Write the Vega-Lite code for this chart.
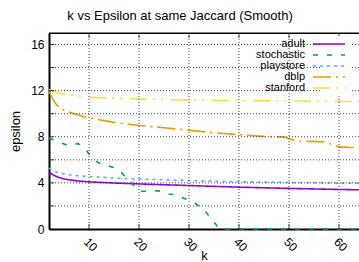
{
  "$schema": "https://vega.github.io/schema/vega-lite/v6.json",
  "width": 310,
  "height": 196,
  "autosize": {"type": "none"},
  "padding": {"left": 49, "top": 33, "right": 0, "bottom": 33},
  "background": "white",
  "view": {"stroke": "#000000", "strokeWidth": 1},
  "title": {"text": "k vs Epsilon at same Jaccard (Smooth)", "font": "Liberation Sans", "fontSize": 13, "fontWeight": "normal", "color": "#000000", "anchor": "middle", "dx": -24, "offset": 10},
  "datasets": {
    "xgrid": [{"k": 10}, {"k": 20}, {"k": 30}, {"k": 40}, {"k": 50}, {"k": 60}],
    "ygrid": [{"epsilon": 2}, {"epsilon": 4}, {"epsilon": 6}, {"epsilon": 8}, {"epsilon": 10}, {"epsilon": 12}, {"epsilon": 14}, {"epsilon": 16}],
    "frame": [{"epsilon": 17}],
    "curves": [
    {"k": 2, "epsilon": 4.93, "series": "adult"},
    {"k": 3, "epsilon": 4.65, "series": "adult"},
    {"k": 4, "epsilon": 4.46, "series": "adult"},
    {"k": 5, "epsilon": 4.34, "series": "adult"},
    {"k": 6, "epsilon": 4.26, "series": "adult"},
    {"k": 8, "epsilon": 4.16, "series": "adult"},
    {"k": 10, "epsilon": 4.09, "series": "adult"},
    {"k": 15, "epsilon": 3.99, "series": "adult"},
    {"k": 20, "epsilon": 3.91, "series": "adult"},
    {"k": 25, "epsilon": 3.84, "series": "adult"},
    {"k": 30, "epsilon": 3.77, "series": "adult"},
    {"k": 40, "epsilon": 3.63, "series": "adult"},
    {"k": 50, "epsilon": 3.52, "series": "adult"},
    {"k": 60, "epsilon": 3.43, "series": "adult"},
    {"k": 64, "epsilon": 3.4, "series": "adult"},

    {"k": 2, "epsilon": 7.9, "series": "stochastic"},
    {"k": 3, "epsilon": 7.72, "series": "stochastic"},
    {"k": 5, "epsilon": 7.38, "series": "stochastic"},
    {"k": 6, "epsilon": 7.25, "series": "stochastic"},
    {"k": 7, "epsilon": 7.3, "series": "stochastic"},
    {"k": 7.8, "epsilon": 7.42, "series": "stochastic"},
    {"k": 8.5, "epsilon": 7.15, "series": "stochastic"},
    {"k": 9.4, "epsilon": 6.85, "series": "stochastic"},
    {"k": 10, "epsilon": 6.5, "series": "stochastic"},
    {"k": 11, "epsilon": 6.0, "series": "stochastic"},
    {"k": 12, "epsilon": 5.72, "series": "stochastic"},
    {"k": 13, "epsilon": 5.58, "series": "stochastic"},
    {"k": 15, "epsilon": 5.32, "series": "stochastic"},
    {"k": 16, "epsilon": 5.12, "series": "stochastic"},
    {"k": 17, "epsilon": 4.65, "series": "stochastic"},
    {"k": 18, "epsilon": 4.22, "series": "stochastic"},
    {"k": 19, "epsilon": 3.75, "series": "stochastic"},
    {"k": 20, "epsilon": 3.28, "series": "stochastic"},
    {"k": 21, "epsilon": 3.27, "series": "stochastic"},
    {"k": 23, "epsilon": 3.33, "series": "stochastic"},
    {"k": 24.5, "epsilon": 3.27, "series": "stochastic"},
    {"k": 26, "epsilon": 3.03, "series": "stochastic"},
    {"k": 27.5, "epsilon": 2.96, "series": "stochastic"},
    {"k": 28.5, "epsilon": 2.75, "series": "stochastic"},
    {"k": 30, "epsilon": 2.48, "series": "stochastic"},
    {"k": 31.2, "epsilon": 2.23, "series": "stochastic"},
    {"k": 32.7, "epsilon": 1.8, "series": "stochastic"},
    {"k": 33.5, "epsilon": 1.42, "series": "stochastic"},
    {"k": 34.5, "epsilon": 0.78, "series": "stochastic"},
    {"k": 35.4, "epsilon": 0.4, "series": "stochastic"},
    {"k": 36, "epsilon": 0, "series": "stochastic"},
    {"k": 50, "epsilon": 0, "series": "stochastic"},
    {"k": 64, "epsilon": 0, "series": "stochastic"},

    {"k": 2, "epsilon": 5.28, "series": "playstore"},
    {"k": 3, "epsilon": 5.0, "series": "playstore"},
    {"k": 4, "epsilon": 4.86, "series": "playstore"},
    {"k": 6, "epsilon": 4.71, "series": "playstore"},
    {"k": 8, "epsilon": 4.61, "series": "playstore"},
    {"k": 10, "epsilon": 4.55, "series": "playstore"},
    {"k": 15, "epsilon": 4.42, "series": "playstore"},
    {"k": 20, "epsilon": 4.33, "series": "playstore"},
    {"k": 30, "epsilon": 4.2, "series": "playstore"},
    {"k": 40, "epsilon": 4.1, "series": "playstore"},
    {"k": 50, "epsilon": 4.03, "series": "playstore"},
    {"k": 60, "epsilon": 3.98, "series": "playstore"},
    {"k": 64, "epsilon": 3.96, "series": "playstore"},

    {"k": 2, "epsilon": 11.94, "series": "dblp"},
    {"k": 2.5, "epsilon": 11.5, "series": "dblp"},
    {"k": 3, "epsilon": 11.1, "series": "dblp"},
    {"k": 3.5, "epsilon": 10.78, "series": "dblp"},
    {"k": 4, "epsilon": 10.56, "series": "dblp"},
    {"k": 5, "epsilon": 10.3, "series": "dblp"},
    {"k": 6, "epsilon": 10.15, "series": "dblp"},
    {"k": 8, "epsilon": 9.86, "series": "dblp"},
    {"k": 10, "epsilon": 9.63, "series": "dblp"},
    {"k": 12, "epsilon": 9.48, "series": "dblp"},
    {"k": 15, "epsilon": 9.25, "series": "dblp"},
    {"k": 20, "epsilon": 8.98, "series": "dblp"},
    {"k": 25, "epsilon": 8.78, "series": "dblp"},
    {"k": 30, "epsilon": 8.57, "series": "dblp"},
    {"k": 35, "epsilon": 8.35, "series": "dblp"},
    {"k": 40, "epsilon": 8.18, "series": "dblp"},
    {"k": 45, "epsilon": 8.03, "series": "dblp"},
    {"k": 49, "epsilon": 7.97, "series": "dblp"},
    {"k": 50, "epsilon": 7.82, "series": "dblp"},
    {"k": 52, "epsilon": 7.6, "series": "dblp"},
    {"k": 55, "epsilon": 7.6, "series": "dblp"},
    {"k": 57, "epsilon": 7.54, "series": "dblp"},
    {"k": 58.5, "epsilon": 7.37, "series": "dblp"},
    {"k": 60, "epsilon": 7.12, "series": "dblp"},
    {"k": 62, "epsilon": 7.08, "series": "dblp"},
    {"k": 64, "epsilon": 7.06, "series": "dblp"},

    {"k": 2, "epsilon": 12.1, "series": "stanford"},
    {"k": 3, "epsilon": 11.9, "series": "stanford"},
    {"k": 5, "epsilon": 11.7, "series": "stanford"},
    {"k": 10, "epsilon": 11.42, "series": "stanford"},
    {"k": 20, "epsilon": 11.28, "series": "stanford"},
    {"k": 30, "epsilon": 11.18, "series": "stanford"},
    {"k": 40, "epsilon": 11.13, "series": "stanford"},
    {"k": 50, "epsilon": 11.1, "series": "stanford"},
    {"k": 64, "epsilon": 11.05, "series": "stanford"}
    ]
  },
  "layer": [
    {
      "data": {"name": "curves"},
      "mark": {"type": "line", "strokeWidth": 1.6},
      "encoding": {
        "x": {"field": "k", "type": "quantitative", "scale": {"domain": [2, 64], "nice": false, "zero": false},
          "axis": {"orient": "bottom", "values": [10, 20, 30, 40, 50, 60], "labelOverlap": false, "title": "k", "titleFont": "Liberation Sans", "titleColor": "#000000", "titleFontSize": 13, "titleFontWeight": "normal", "titlePadding": -4, "labelFont": "Liberation Sans", "labelColor": "#000000", "labelFontSize": 12, "labelAngle": 45, "labelAlign": "left", "labelBaseline": "top", "ticks": false, "labelPadding": 7, "domainColor": "#000000", "domainWidth": 2, "grid": false}},
        "y": {"field": "epsilon", "type": "quantitative", "scale": {"domain": [0, 17], "nice": false, "zero": false},
          "axis": {"orient": "left", "values": [0, 2, 4, 6, 8, 10, 12, 14, 16], "labelOverlap": false, "title": "epsilon", "titleFont": "Liberation Sans", "titleColor": "#000000", "titleFontSize": 13, "titleFontWeight": "normal", "titlePadding": 8, "labelFont": "Liberation Sans", "labelColor": "#000000", "labelFontSize": 12, "ticks": false, "labelPadding": 5, "domainColor": "#000000", "domainWidth": 2, "grid": false}},
        "color": {"field": "series", "type": "nominal",
          "scale": {"domain": ["adult", "stochastic", "playstore", "dblp", "stanford"], "range": ["#9400d3", "#009e73", "#56b4e9", "#e69f00", "#f0e442"]},
          "legend": {"title": null, "orient": "none", "legendX": 272, "legendY": 3, "symbolType": "M-3.2,0H3.2", "symbolSize": 100, "symbolStrokeWidth": 1.6, "labelAlign": "right", "labelOffset": -30, "labelFont": "Liberation Sans", "labelFontSize": 11, "labelColor": "#000000", "rowPadding": 0, "padding": 2, "fillColor": "white"}},
        "strokeDash": {"field": "series", "type": "nominal",
          "scale": {"domain": ["adult", "stochastic", "playstore", "dblp", "stanford"], "range": [[1, 0], [5, 9], [3, 4], [18, 5, 2, 5], [17, 6, 2, 6, 2, 8]]},
          "legend": null},
        "order": {"field": "k", "type": "quantitative"}
      }
    },
    {
      "data": {"name": "xgrid"},
      "mark": {"type": "rule", "color": "#404040", "strokeWidth": 1, "strokeDash": [1, 2]},
      "encoding": {
        "x": {"field": "k", "type": "quantitative"}
      }
    },
    {
      "data": {"name": "ygrid"},
      "mark": {"type": "rule", "color": "#404040", "strokeWidth": 1, "strokeDash": [1, 2]},
      "encoding": {
        "y": {"field": "epsilon", "type": "quantitative"}
      }
    },
    {
      "data": {"name": "frame"},
      "mark": {"type": "rule", "color": "#000000", "strokeWidth": 1},
      "encoding": {
        "y": {"field": "epsilon", "type": "quantitative"}
      }
    },
    {
      "data": {"name": "xgrid"},
      "mark": {"type": "tick", "orient": "vertical", "color": "#000000", "size": 10, "thickness": 1, "clip": true},
      "encoding": {
        "x": {"field": "k", "type": "quantitative"},
        "y": {"datum": 17, "type": "quantitative"}
      }
    },
    {
      "data": {"name": "xgrid"},
      "mark": {"type": "tick", "orient": "vertical", "color": "#000000", "size": 10, "thickness": 1, "clip": true},
      "encoding": {
        "x": {"field": "k", "type": "quantitative"},
        "y": {"datum": 0, "type": "quantitative"}
      }
    },
    {
      "data": {"name": "ygrid"},
      "mark": {"type": "tick", "orient": "horizontal", "color": "#000000", "size": 10, "thickness": 1, "clip": true},
      "encoding": {
        "x": {"datum": 2, "type": "quantitative"},
        "y": {"field": "epsilon", "type": "quantitative"}
      }
    }
  ]
}
